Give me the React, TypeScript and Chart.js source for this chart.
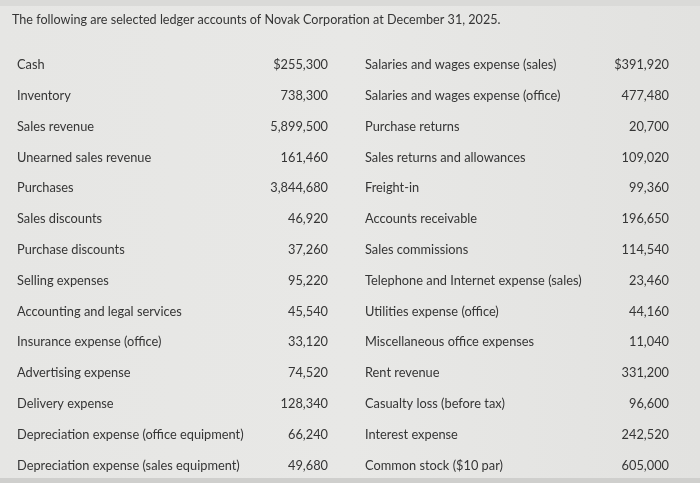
import React, { useEffect, useRef } from "react";
import { Chart, registerables } from "chart.js";

Chart.register(...registerables);

const TITLE = "The following are selected ledger accounts of Novak Corporation at December 31, 2025.";

const LEFT_NAMES = [
  "Cash",
  "Inventory",
  "Sales revenue",
  "Unearned sales revenue",
  "Purchases",
  "Sales discounts",
  "Purchase discounts",
  "Selling expenses",
  "Accounting and legal services",
  "Insurance expense (office)",
  "Advertising expense",
  "Delivery expense",
  "Depreciation expense (office equipment)",
  "Depreciation expense (sales equipment)",
];
const LEFT_VALUES = [
  255300, 738300, 5899500, 161460, 3844680, 46920, 37260, 95220, 45540, 33120, 74520, 128340, 66240, 49680,
];

const RIGHT_NAMES = [
  "Salaries and wages expense (sales)",
  "Salaries and wages expense (office)",
  "Purchase returns",
  "Sales returns and allowances",
  "Freight-in",
  "Accounts receivable",
  "Sales commissions",
  "Telephone and Internet expense (sales)",
  "Utilities expense (office)",
  "Miscellaneous office expenses",
  "Rent revenue",
  "Casualty loss (before tax)",
  "Interest expense",
  "Common stock ($10 par)",
];
const RIGHT_VALUES = [
  391920, 477480, 20700, 109020, 99360, 196650, 114540, 23460, 44160, 11040, 331200, 96600, 242520, 605000,
];

const fmt = (v: number, i: number) => (i === 0 ? "$" : "") + v.toLocaleString("en-US");

export default function App() {
  const ref = useRef<HTMLCanvasElement | null>(null);
  useEffect(() => {
    document.body.style.margin = "0";
    const canvas = ref.current!;
    const FONT = "12.8px Lato, 'Open Sans', sans-serif";
    const TITLE_FONT = "12.6px Lato, 'Open Sans', sans-serif";
    const COLOR = "#353535";
    const COLS = { leftName: 17, leftVal: 328, rightName: 365, rightVal: 669, title: 12 };

    const tablePlugin = {
      id: "tableText",
      beforeDraw(chart: any) {
        const { ctx, width, height } = chart;
        ctx.save();
        const g = ctx.createLinearGradient(0, 0, width, 0);
        g.addColorStop(0, "#e6e6e4");
        g.addColorStop(0.5, "#e8e8e6");
        g.addColorStop(1, "#e2e2e0");
        ctx.fillStyle = g;
        ctx.fillRect(0, 0, width, height);
        ctx.fillStyle = "#dadad8";
        ctx.fillRect(0, 0, width, 6);
        ctx.fillStyle = "#cfcfcd";
        ctx.fillRect(0, height - 5, width, 5);
        ctx.restore();
      },
      afterDatasetsDraw(chart: any) {
        const { ctx } = chart;
        const xs = chart.scales.x;
        const ys = chart.scales.y;
        ctx.save();
        ctx.fillStyle = COLOR;
        ctx.textBaseline = "middle";
        ctx.textAlign = "left";
        ctx.font = TITLE_FONT;
        ctx.fillText(TITLE, xs.getPixelForValue(COLS.title), ys.getPixelForValue(-1.47));
        ctx.font = FONT;
        LEFT_NAMES.forEach((name, i) => {
          const y = ys.getPixelForValue(i);
          ctx.textAlign = "left";
          ctx.fillText(name, xs.getPixelForValue(COLS.leftName), y);
          ctx.textAlign = "right";
          ctx.fillText(fmt(LEFT_VALUES[i], i), xs.getPixelForValue(COLS.leftVal), y);
          ctx.textAlign = "left";
          ctx.fillText(RIGHT_NAMES[i], xs.getPixelForValue(COLS.rightName), y);
          ctx.textAlign = "right";
          ctx.fillText(fmt(RIGHT_VALUES[i], i), xs.getPixelForValue(COLS.rightVal), y);
        });
        ctx.restore();
      },
    };

    const chart = new Chart(canvas, {
      type: "scatter",
      data: {
        datasets: [
          {
            data: LEFT_VALUES.map((_, i) => ({ x: COLS.leftVal, y: i })),
            pointRadius: 0,
          },
        ],
      },
      options: {
        animation: false,
        responsive: false,
        layout: { padding: 0 },
        events: [],
        plugins: { legend: { display: false }, tooltip: { enabled: false }, title: { display: false } },
        scales: {
          x: { type: "linear", min: 0, max: 700, display: false },
          y: { type: "linear", min: -2.11, max: 13.57, reverse: true, display: false },
        },
      },
      plugins: [tablePlugin],
    });
    return () => chart.destroy();
  }, []);
  return (
    <div style={{ position: "fixed", left: 0, top: 0, width: 700, height: 483 }}>
      <canvas ref={ref} width={700} height={483} style={{ display: "block" }} />
    </div>
  );
}
